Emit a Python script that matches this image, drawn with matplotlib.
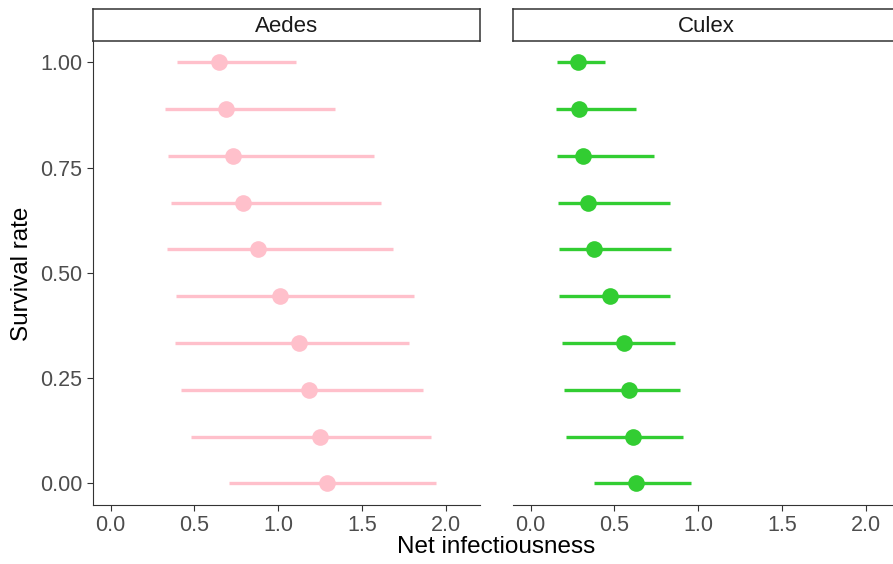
import numpy as np
import matplotlib.pyplot as plt

plt.rcParams['font.family'] = ['Liberation Sans', 'DejaVu Sans']

survival = [0.0, 1/9, 2/9, 3/9, 4/9, 5/9, 6/9, 7/9, 8/9, 1.0]

# values listed from survival 0 upward
aedes_mid = [1.288, 1.248, 1.183, 1.123, 1.010, 0.880, 0.789, 0.731, 0.686, 0.648]
aedes_lo = [0.707, 0.477, 0.419, 0.381, 0.391, 0.338, 0.362, 0.342, 0.324, 0.393]
aedes_hi = [1.938, 1.910, 1.860, 1.779, 1.809, 1.683, 1.614, 1.572, 1.340, 1.105]

culex_mid = [0.627, 0.609, 0.587, 0.557, 0.473, 0.380, 0.344, 0.314, 0.290, 0.284]
culex_lo = [0.378, 0.209, 0.199, 0.185, 0.169, 0.171, 0.163, 0.155, 0.149, 0.159]
culex_hi = [0.955, 0.907, 0.893, 0.861, 0.828, 0.836, 0.828, 0.734, 0.631, 0.446]

panels = [("Aedes", aedes_mid, aedes_lo, aedes_hi, "pink"),
          ("Culex", culex_mid, culex_lo, culex_hi, "limegreen")]

W, H = 893, 564
fig = plt.figure(figsize=(W / 100, H / 100), dpi=100)

lefts = [93, 513]
pw = 387
bottom, top = 505, 41
for i, (name, mid, lo, hi, col) in enumerate(panels):
    ax = fig.add_axes([lefts[i] / W, 1 - bottom / H, pw / W, (bottom - top) / H])
    ax.hlines(survival, lo, hi, color=col, lw=2.4, zorder=2)
    ax.plot(mid, survival, "o", color=col, ms=12, mec="none", zorder=3)
    ax.set_xlim(-0.105, 2.202)
    ax.set_ylim(-0.0515, 1.0506)
    ax.set_xticks([0, 0.5, 1.0, 1.5, 2.0])
    ax.set_xticklabels(["0.0", "0.5", "1.0", "1.5", "2.0"])
    ax.set_yticks([0, 0.25, 0.5, 0.75, 1.0])
    ax.set_yticklabels(["0.00", "0.25", "0.50", "0.75", "1.00"])
    for s in ["top", "right"]:
        ax.spines[s].set_visible(False)
    ax.spines["bottom"].set_color("#333333")
    ax.spines["left"].set_color("#333333")
    ax.tick_params(colors="#333333", labelcolor="#4d4d4d", labelsize=15.5, length=4, width=0.8)
    if i == 1:
        ax.spines["left"].set_visible(False)
        ax.tick_params(axis="y", left=False, labelleft=False)
    # facet strip
    strip = fig.add_axes([lefts[i] / W, 1 - top / H, pw / W, 32 / H])
    strip.set_xticks([])
    strip.set_yticks([])
    for s in strip.spines.values():
        s.set_color("#333333")
        s.set_linewidth(1.1)
    if i == 1:
        strip.spines["right"].set_visible(False)
    strip.text(0.5, 0.45, name, ha="center", va="center", fontsize=16, color="#1a1a1a",
               transform=strip.transAxes)

fig.text(496 / W, 1 - 547 / H, "Net infectiousness", ha="center", va="center", fontsize=17.5)
fig.text(22 / W, 1 - 274 / H, "Survival rate", ha="center", va="center", rotation=90, fontsize=17.5)

fig.savefig("out.png", dpi=100)
